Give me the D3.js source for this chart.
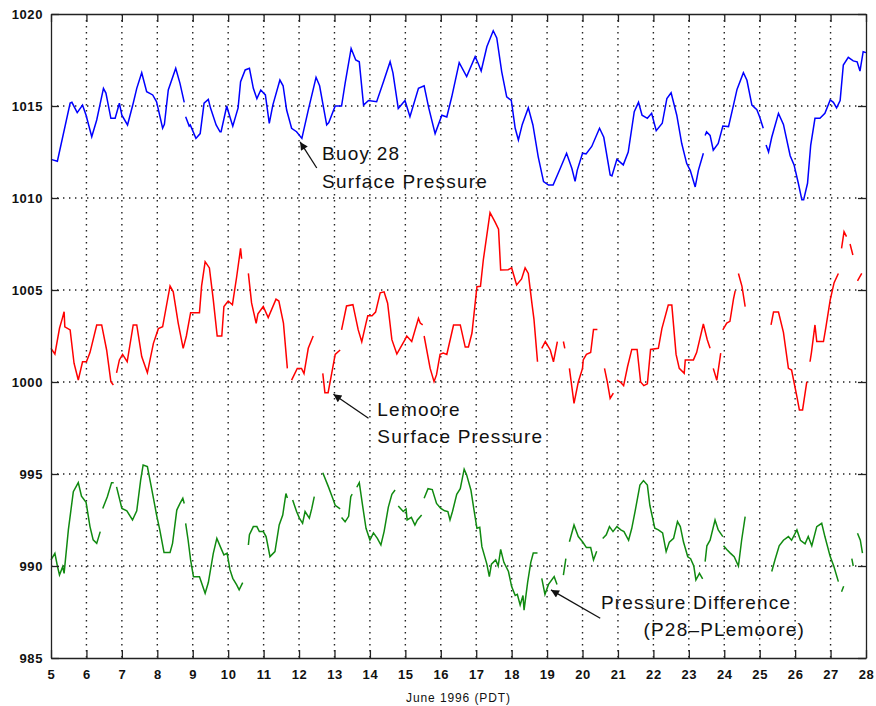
<!DOCTYPE html>
<html lang="en">
<head>
    <meta charset="UTF-8">
    <title>June 1996 pressure</title>
    <style>
        body { margin: 0; background: #fff; }
        text { font-family: "Liberation Sans", Arial, sans-serif; }
    </style>
</head>
<body>
<div id="chart"></div>
<script src="https://cdn.jsdelivr.net/npm/d3@7"></script>
<script>
    const width = 876,
        height = 706;
    const margin = {"top": 14, "left": 51, "bottom": 48, "right": 10};

    // tick labels
    const dayTicks = d3.range(5, 29);
    const pressureTicks = [985, 990, 995, 1000, 1005, 1010, 1015, 1020];

    // [day of June, hPa], null = gap in the record
    const buoy28 = [
        [5.0,1012.1],[5.18,1012.0],[5.54,1015.16],[5.59,1015.2],[5.74,1014.64],[5.89,1015.05],[5.99,1014.5],[6.15,1013.33],
        [6.29,1014.24],[6.48,1015.96],[6.55,1015.7],[6.69,1014.33],[6.81,1014.33],[6.93,1015.15],[7.0,1014.5],[7.16,1013.97],
        [7.32,1015.15],[7.42,1015.96],[7.56,1016.81],[7.70,1015.78],[7.87,1015.6],[7.98,1015.23],[8.15,1013.79],[8.2,1014.0],
        [8.31,1015.87],[8.52,1017.05],[8.64,1016.23],[8.76,1015.2], null,
        [8.80,1014.42],[8.90,1013.91],[8.93,1013.97],[9.09,1013.24],[9.21,1013.5],[9.32,1015.15],[9.44,1015.36],[9.5,1014.9],
        [9.66,1013.97],[9.77,1013.6],[9.8,1013.6],[9.96,1015.0],[10.05,1014.4],[10.13,1013.9],[10.28,1014.9],[10.35,1016.32],
        [10.48,1016.96],[10.6,1017.05],[10.71,1015.96],[10.81,1015.4],[10.92,1015.87],[11.05,1015.6],[11.16,1014.06],[11.26,1015.05],
        [11.46,1016.41],[11.55,1016.1],[11.65,1014.78],[11.79,1013.79],[11.93,1013.6],[12.08,1013.24],[12.26,1014.78],[12.48,1016.56],
        [12.58,1016.1],[12.78,1013.97],[12.84,1014.1],[13.02,1015.0],[13.2,1015.0],[13.3,1016.23],[13.47,1018.13],[13.6,1017.5],
        [13.7,1017.4],[13.82,1015.05],[13.96,1015.3],[14.19,1015.23],[14.38,1016.3],[14.57,1017.41],[14.65,1016.8],[14.80,1014.87],
        [14.99,1015.3],[15.13,1014.42],[15.37,1015.96],[15.53,1016.1],[15.66,1014.9],[15.84,1013.5],[16.03,1014.5],[16.17,1014.4],
        [16.31,1015.5],[16.52,1017.36],[16.73,1016.6],[16.97,1017.68],[17.06,1017.3],[17.14,1016.9],[17.30,1018.22],[17.48,1019.09],
        [17.58,1018.7],[17.72,1016.86],[17.86,1015.5],[17.99,1015.3],[18.1,1013.79],[18.19,1013.15],[18.3,1014.0],[18.47,1014.9],
        [18.6,1013.97],[18.75,1012.24],[18.9,1010.89],[19.04,1010.7],[19.17,1010.7],[19.37,1011.6],[19.55,1012.43],[19.7,1011.6],
        [19.79,1010.9],[19.85,1011.5],[20.0,1012.43],[20.1,1012.4],[20.26,1012.8],[20.48,1013.79],[20.6,1013.3],[20.78,1011.25],
        [20.83,1011.2],[20.97,1012.1],[21.15,1011.8],[21.29,1012.5],[21.46,1014.69],[21.58,1015.2],[21.68,1014.5],[21.83,1014.33],
        [21.95,1014.6],[22.08,1013.66],[22.25,1014.06],[22.38,1015.4],[22.5,1015.72],[22.66,1014.5],[22.8,1012.96],[22.94,1011.87],
        [23.04,1011.5],[23.18,1010.6],[23.27,1011.5],[23.41,1012.43], null,
        [23.46,1013.4],[23.5,1013.6],[23.6,1013.4],[23.69,1012.6],[23.83,1012.96],[23.96,1013.91],[24.12,1013.88],[24.26,1015.05],
        [24.36,1015.9],[24.54,1016.81],[24.64,1016.4],[24.78,1015.05],[24.92,1014.8],[25.0,1014.4],[25.1,1013.79], null,
        [25.18,1012.88],[25.25,1012.5],[25.34,1013.3],[25.53,1014.6],[25.67,1014.0],[25.86,1012.3],[25.97,1011.8],[26.09,1010.8],
        [26.19,1009.9],[26.24,1009.9],[26.35,1010.8],[26.44,1012.88],[26.56,1014.33],[26.7,1014.33],[26.84,1014.6],[26.99,1015.33],
        [27.08,1015.2],[27.17,1014.9],[27.27,1015.3],[27.36,1017.23],[27.5,1017.64],[27.64,1017.45],[27.75,1017.4],[27.83,1016.9],
        [27.92,1017.95],[28.0,1017.9]
    ];

    const lemoore = [
        [5.0,1001.83],[5.11,1001.52],[5.24,1002.92],[5.32,1003.46],[5.37,1003.82],[5.39,1003.0],[5.54,1002.83],[5.65,1001.02],
        [5.77,1000.11],[5.89,1001.1],[6.0,1001.1],[6.10,1001.6],[6.29,1003.1],[6.43,1003.1],[6.57,1001.74],[6.69,1000.02],[6.76,999.84], null,
        [6.85,1000.5],[6.93,1001.2],[7.02,1001.5],[7.15,1001.1],[7.32,1003.1],[7.42,1003.1],[7.56,1001.38],[7.72,1000.5],
        [7.89,1002.1],[8.03,1002.9],[8.15,1003.0],[8.36,1005.22],[8.45,1004.9],[8.59,1003.2],[8.73,1001.83],[8.82,1002.5],
        [8.94,1003.77],[9.19,1003.77],[9.25,1005.22],[9.35,1006.54],[9.47,1006.2],[9.58,1004.46],[9.69,1002.5],[9.82,1002.5],
        [9.88,1004.1],[10.0,1004.4],[10.12,1004.2],[10.24,1005.72],[10.35,1007.26],[10.38,1006.7], null,
        [10.57,1005.9],[10.66,1004.3],[10.79,1003.19],[10.84,1003.7],[10.99,1004.1],[11.13,1003.5],[11.35,1004.5],[11.43,1004.4],
        [11.56,1003.2],[11.67,1000.74], null,
        [11.79,1000.1],[11.95,1000.74],[12.07,1000.74],[12.14,1000.46],[12.26,1001.83],[12.40,1002.5], null,
        [12.67,1000.47],[12.73,999.42],[12.82,999.42],[12.92,1000.46],[13.02,1001.5],[13.16,1001.74], null,
        [13.2,1002.83],[13.34,1004.13],[13.52,1004.2],[13.67,1002.83],[13.77,1002.19],[13.89,1003.2],[13.94,1003.6],[14.06,1003.6],
        [14.16,1003.8],[14.29,1004.85],[14.4,1004.9],[14.5,1004.28],[14.62,1002.3],[14.76,1001.52],[14.87,1001.9],[14.99,1002.3],
        [15.04,1002.5],[15.18,1002.2],[15.37,1003.46],[15.42,1003.2],[15.49,1003.1], null,
        [15.53,1002.5],[15.70,1000.74],[15.81,1000.02],[15.88,1000.4],[15.98,1001.5],[16.07,1001.57],[16.17,1001.5],[16.36,1003.1],
        [16.55,1003.1],[16.69,1001.9],[16.78,1001.9],[16.88,1002.66],[17.02,1005.18],[17.12,1005.2],[17.2,1006.63],[17.39,1009.2],
        [17.53,1008.7],[17.63,1008.3],[17.69,1006.09],[17.9,1006.1],[18.0,1006.2],[18.14,1005.27],[18.28,1005.6],[18.38,1006.2],
        [18.47,1005.9],[18.57,1004.3],[18.63,1003.4],[18.73,1001.1], null,
        [18.85,1001.83],[18.95,1002.2],[19.09,1001.74],[19.18,1001.1],[19.29,1002.2], null,
        [19.46,1002.2],[19.5,1001.83], null,
        [19.63,1000.74],[19.76,998.84],[19.88,1000.0],[20.0,1000.74],[20.02,1001.2],[20.11,1001.5],[20.23,1001.6],[20.31,1002.86],
        [20.42,1002.86], null,
        [20.62,1000.74],[20.7,1000.0],[20.78,999.11],[20.87,999.4], null,
        [20.97,1000.1],[21.07,1000.0],[21.16,999.8],[21.27,1000.83],[21.39,1001.77],[21.54,1001.77],[21.64,1000.0],[21.73,999.8],
        [21.83,999.9],[21.92,1001.77],[22.14,1001.83],[22.24,1002.9],[22.42,1004.18],[22.52,1004.18],[22.64,1001.5],[22.73,1000.74],
        [22.87,1000.47],[22.9,1001.2],[23.13,1001.2],[23.22,1001.6],[23.41,1003.15],[23.52,1002.3],[23.6,1001.83], null,
        [23.69,1000.74],[23.79,1000.1],[23.9,1001.57], null,
        [23.96,1002.83],[24.07,1003.2],[24.16,1003.3],[24.26,1004.5],[24.31,1004.97], null,
        [24.4,1005.9],[24.5,1005.2],[24.59,1004.1], null,
        [25.32,1003.1],[25.39,1003.8],[25.53,1003.8],[25.67,1002.7],[25.81,1000.74],[25.9,1000.65],[26.05,999.2],[26.12,998.48],
        [26.21,998.48],[26.33,1000.02], null,
        [26.42,1001.1],[26.46,1001.6],[26.56,1003.1],[26.61,1002.2],[26.8,1002.2],[26.87,1003.0],[26.99,1004.46],[27.1,1005.4],
        [27.22,1005.9], null,
        [27.31,1007.26],[27.38,1008.17],[27.45,1007.9], null,
        [27.55,1007.5],[27.63,1006.9], null,
        [27.76,1005.5],[27.88,1005.9]
    ];

    const difference = [
        [5.0,990.33],[5.11,990.69],[5.18,990.0],[5.24,989.51],[5.33,989.96],[5.37,989.6],[5.49,991.96],[5.63,994.04],
        [5.77,994.53],[5.86,993.8],[5.99,993.46],[6.10,992.14],[6.19,991.42],[6.29,991.23],[6.39,991.87], null,
        [6.46,993.13],[6.59,993.76],[6.71,994.53],[6.77,994.53], null,
        [6.85,994.3],[7.0,993.13],[7.14,993.0],[7.30,992.5],[7.42,993.0],[7.53,994.67],[7.6,995.49],[7.72,995.4],
        [7.84,994.2],[7.98,992.77],[8.07,991.96],[8.19,990.73],[8.36,990.73],[8.43,991.23],[8.55,993.04],[8.64,993.4],
        [8.72,993.68],[8.76,993.4], null,
        [8.80,992.32],[8.87,991.4],[8.94,990.33],[9.02,989.42],[9.19,989.42],[9.35,988.52],[9.44,989.1],[9.58,990.69],
        [9.68,991.5],[9.79,991.0],[9.88,990.6],[9.97,990.7],[10.05,989.8],[10.13,989.33],[10.24,988.97],[10.31,988.7],
        [10.41,989.1], null,
        [10.57,991.14],[10.6,991.7],[10.71,992.14],[10.81,992.14],[10.88,991.87],[10.99,991.87],[11.07,991.6],[11.18,990.51],
        [11.32,990.78],[11.44,992.23],[11.54,992.77],[11.63,993.94],[11.67,993.7], null,
        [11.82,993.59],[11.93,992.96],[12.01,992.6],[12.1,992.32],[12.17,992.96],[12.29,992.6],[12.36,993.13],[12.43,993.77], null,
        [12.67,995.07],[12.83,994.3],[12.95,993.68],[13.02,993.3],[13.16,993.1], null,
        [13.2,992.64],[13.3,992.4],[13.4,992.7],[13.46,993.77],[13.5,993.9], null,
        [13.63,994.28],[13.7,994.53],[13.8,993.2],[13.89,992.05],[14.0,991.41],[14.1,991.8],[14.21,991.5],[14.31,991.14],
        [14.4,991.87],[14.52,993.2],[14.62,993.9],[14.71,994.13], null,
        [14.8,993.26],[14.94,992.96],[15.02,993.1],[15.05,992.5],[15.17,992.64],[15.27,992.23],[15.34,992.5],[15.46,992.77], null,
        [15.53,993.68],[15.64,994.2],[15.76,994.15],[15.88,993.4],[16.0,993.13],[16.11,993.0],[16.2,992.96],[16.26,992.5],
        [16.33,992.96],[16.45,993.9],[16.55,994.2],[16.66,995.26],[16.73,994.95],[16.85,994.13],[16.93,993.13],[17.02,992.05],
        [17.1,992.1],[17.16,991.05],[17.3,990.1],[17.37,989.42],[17.43,990.1],[17.55,990.33],[17.62,990.0],[17.69,990.9],
        [17.78,990.2],[17.91,989.7],[18.0,988.88],[18.1,988.4],[18.16,988.46],[18.24,987.88],[18.32,988.4],[18.35,987.6],
        [18.45,989.1],[18.54,990.2],[18.61,990.7],[18.73,990.7], null,
        [18.85,989.33],[18.94,988.46],[19.04,989.0],[19.2,989.42],[19.28,989.0], null,
        [19.46,989.51],[19.53,990.4], null,
        [19.63,991.32],[19.76,992.23],[19.88,991.6],[20.0,991.32],[20.11,991.0],[20.23,991.0],[20.31,990.33],[20.4,990.8], null,
        [20.57,991.5],[20.67,991.7],[20.76,992.14],[20.86,991.87],[20.97,992.14],[21.08,991.96],[21.17,991.87],[21.3,991.4],
        [21.39,992.05],[21.49,993.04],[21.62,994.4],[21.72,994.64],[21.83,994.4],[21.9,993.3],[22.04,992.05],[22.14,991.96],
        [22.26,991.8],[22.36,990.78],[22.45,991.3],[22.57,991.5],[22.68,992.41],[22.76,992.14],[22.85,991.3],[22.97,990.5],
        [23.05,990.4],[23.14,990.0],[23.2,989.24],[23.3,989.6],[23.39,989.3], null,
        [23.46,990.24],[23.51,991.1],[23.6,991.4],[23.74,992.5],[23.83,991.96],[23.96,991.6], null,
        [23.98,991.1],[24.07,990.9],[24.17,990.7],[24.28,990.5],[24.4,990.0],[24.49,991.4],[24.59,992.68], null,
        [25.34,989.7],[25.43,990.33],[25.55,991.1],[25.67,991.4],[25.81,991.6],[25.9,991.4],[26.05,991.96],[26.15,991.4],
        [26.28,991.2],[26.37,991.6],[26.47,991.1],[26.61,992.14],[26.75,992.32],[26.84,991.6],[26.99,990.51],[27.09,990.0],
        [27.22,989.15], null,
        [27.31,988.6],[27.37,988.9], null,
        [27.6,990.4],[27.64,990.0], null,
        [27.76,991.78],[27.84,991.4],[27.9,990.7]
    ];

    // labels: arrow head, arrow tail, text lines [day, hPa, text]
    const labels = [
        {"head": [12.03, 1013.05], "tail": [12.5, 1011.63],
            "lines": [[12.65, 1012.07, "Buoy 28"], [12.65, 1010.56, "Surface Pressure"]]},
        {"head": [12.97, 999.33], "tail": [13.96, 998.03],
            "lines": [[14.21, 998.17, "Lemoore"], [14.21, 996.66, "Surface Pressure"]]},
        {"head": [19.11, 988.70], "tail": [20.5, 987.16],
            "lines": [[20.52, 987.66, "Pressure Difference"], [21.72, 986.18, "(P28\u2013PLemoore)"]]}
    ];

    const innerW = width - margin.left - margin.right,
        innerH = height - margin.top - margin.bottom;

    const xScale = d3.scaleLinear().domain([5, 28]).range([0, innerW]);
    const yScale = d3.scaleLinear().domain([985, 1020]).range([innerH, 0]);

    const line = d3.line()
        .defined(d => d !== null)
        .x(d => xScale(d[0]))
        .y(d => yScale(d[1]));

    const svg = d3.select("#chart")
        .append("svg")
        .attr("width", width)
        .attr("height", height)
        .style("background-color", "#fff");

    const g = svg.append("g")
        .attr("transform", `translate(${margin.left},${margin.top})`);

    // dotted grid
    g.append("g")
        .selectAll("line")
        .data(dayTicks.slice(1, -1))
        .join("line")
        .attr("x1", d => xScale(d)).attr("x2", d => xScale(d))
        .attr("y1", 0).attr("y2", innerH)
        .style("stroke", "#222")
        .style("stroke-width", 1.4)
        .style("stroke-dasharray", "1.4,4.6");

    g.append("g")
        .selectAll("line")
        .data(pressureTicks.slice(1, -1))
        .join("line")
        .attr("x1", 0).attr("x2", innerW)
        .attr("y1", d => yScale(d)).attr("y2", d => yScale(d))
        .style("stroke", "#222")
        .style("stroke-width", 1.4)
        .style("stroke-dasharray", "1.4,4.6");

    // series
    const series = [[buoy28, "#0000ff"], [lemoore, "#ff0000"], [difference, "#108a10"]];
    g.append("g")
        .selectAll("path")
        .data(series)
        .join("path")
        .attr("d", d => line(d[0]))
        .style("fill", "none")
        .style("stroke", d => d[1])
        .style("stroke-width", 1.5)
        .style("stroke-linejoin", "miter");

    // axes with inward ticks on every side
    const tickLen = 8;
    const xBottom = d3.axisBottom(xScale).tickValues(dayTicks).tickSizeInner(-tickLen).tickSizeOuter(0).tickPadding(12);
    const xTop = d3.axisTop(xScale).tickValues(dayTicks).tickSizeInner(-tickLen).tickSizeOuter(0).tickFormat("");
    const yLeft = d3.axisLeft(yScale).tickValues(pressureTicks).tickSizeInner(-tickLen).tickSizeOuter(0)
        .tickPadding(8).tickFormat(d3.format("d"));
    const yRight = d3.axisRight(yScale).tickValues(pressureTicks).tickSizeInner(-tickLen).tickSizeOuter(0).tickFormat("");

    g.append("g").attr("class", "axis").attr("transform", `translate(0,${innerH})`).call(xBottom);
    g.append("g").attr("class", "axis").call(xTop);
    g.append("g").attr("class", "axis").call(yLeft);
    g.append("g").attr("class", "axis").attr("transform", `translate(${innerW},0)`).call(yRight);

    g.selectAll(".axis path").style("stroke", "#222").style("stroke-width", 1.3);
    g.selectAll(".axis line").style("stroke", "#222").style("stroke-width", 1.3);
    g.selectAll(".axis text")
        .style("font-family", "'Liberation Sans', Arial, sans-serif")
        .style("font-size", "13px")
        .style("font-weight", "bold")
        .style("letter-spacing", "0.6px")
        .style("fill", "#111");

    g.append("text")
        .attr("x", innerW / 2)
        .attr("y", innerH + 44)
        .attr("text-anchor", "middle")
        .style("font-size", "12px")
        .style("letter-spacing", "0.9px")
        .style("fill", "#111")
        .text("June 1996 (PDT)");

    // annotations
    svg.append("defs").append("marker")
        .attr("id", "head")
        .attr("viewBox", "0 0 10 10")
        .attr("refX", 10).attr("refY", 5)
        .attr("markerWidth", 10).attr("markerHeight", 8)
        .attr("markerUnits", "userSpaceOnUse")
        .attr("orient", "auto")
        .append("path")
        .attr("d", "M0,0L10,5L0,10Z")
        .style("fill", "#111");

    const notes = g.append("g");
    notes.selectAll("line")
        .data(labels)
        .join("line")
        .attr("x1", d => xScale(d.tail[0])).attr("y1", d => yScale(d.tail[1]))
        .attr("x2", d => xScale(d.head[0])).attr("y2", d => yScale(d.head[1]))
        .style("stroke", "#111")
        .style("stroke-width", 1.3)
        .attr("marker-end", "url(#head)");

    notes.selectAll("text")
        .data(labels.flatMap(d => d.lines))
        .join("text")
        .attr("x", d => xScale(d[0]))
        .attr("y", d => yScale(d[1]))
        .style("font-size", "19px")
        .style("letter-spacing", "1.2px")
        .style("fill", "#111")
        .text(d => d[2]);
</script>
</body>
</html>
